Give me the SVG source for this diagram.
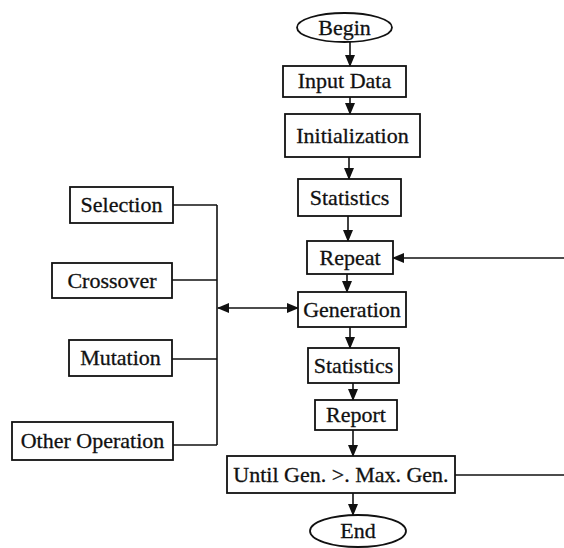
<svg xmlns="http://www.w3.org/2000/svg" width="564" height="548" viewBox="0 0 564 548">
<style>
.n{fill:#fff;stroke:#111;stroke-width:1.8}
.t{font-family:"Liberation Serif","Times New Roman",serif;font-size:22px;fill:#111;stroke:#111;stroke-width:0.3;text-anchor:middle}
.c{fill:none;stroke:#111;stroke-width:1.6}
</style>
<defs>
<marker id="ah" markerWidth="12" markerHeight="10" refX="11" refY="5" orient="auto-start-reverse" markerUnits="userSpaceOnUse">
<path d="M0,0 L12,5 L0,10 Z" fill="#111"/>
</marker>
</defs>
<rect width="564" height="548" fill="#fff"/>
<g id="connectors">
<line class="c" x1="350" y1="42" x2="350" y2="66" marker-end="url(#ah)"/>
<line class="c" x1="350" y1="97" x2="350" y2="114" marker-end="url(#ah)"/>
<line class="c" x1="349" y1="157" x2="349" y2="179" marker-end="url(#ah)"/>
<line class="c" x1="348" y1="216" x2="348" y2="241" marker-end="url(#ah)"/>
<line class="c" x1="347" y1="274" x2="347" y2="292" marker-end="url(#ah)"/>
<line class="c" x1="350" y1="327" x2="350" y2="348" marker-end="url(#ah)"/>
<line class="c" x1="353" y1="383" x2="353" y2="400" marker-end="url(#ah)"/>
<line class="c" x1="353" y1="430" x2="353" y2="456" marker-end="url(#ah)"/>
<line class="c" x1="353" y1="493" x2="353" y2="515" marker-end="url(#ah)"/>
<line class="c" x1="564" y1="258" x2="393" y2="258" marker-end="url(#ah)"/>
<line class="c" x1="455" y1="475" x2="564" y2="475"/>
<line class="c" x1="217" y1="205" x2="217" y2="445"/>
<line class="c" x1="173" y1="205" x2="217" y2="205"/>
<line class="c" x1="172" y1="280" x2="217" y2="280"/>
<line class="c" x1="172" y1="359" x2="217" y2="359"/>
<line class="c" x1="173" y1="445" x2="217" y2="445"/>
<line class="c" x1="218" y1="308" x2="298" y2="308" marker-start="url(#ah)" marker-end="url(#ah)"/>
</g>
<g id="begin"><ellipse class="n" cx="344.5" cy="27.5" rx="47.5" ry="14.5"/><text class="t" x="344.5" y="35">Begin</text></g>
<g id="input"><rect class="n" x="283" y="66" width="123" height="31"/><text class="t" x="344.5" y="88">Input Data</text></g>
<g id="init"><rect class="n" x="285" y="114" width="135" height="43"/><text class="t" x="352.5" y="143">Initialization</text></g>
<g id="stats1"><rect class="n" x="298" y="179" width="103" height="37"/><text class="t" x="349.5" y="205">Statistics</text></g>
<g id="repeat"><rect class="n" x="307" y="241" width="86" height="33"/><text class="t" x="350" y="265">Repeat</text></g>
<g id="generation"><rect class="n" x="298" y="292" width="108" height="35"/><text class="t" x="352" y="317">Generation</text></g>
<g id="stats2"><rect class="n" x="308" y="348" width="91" height="35"/><text class="t" x="353.5" y="373">Statistics</text></g>
<g id="report"><rect class="n" x="315" y="400" width="82" height="30"/><text class="t" x="356" y="422">Report</text></g>
<g id="until"><rect class="n" x="227" y="456" width="228" height="37"/><text class="t" x="341" y="482">Until Gen. &gt;. Max. Gen.</text></g>
<g id="end"><ellipse class="n" cx="358" cy="531" rx="48" ry="16"/><text class="t" x="358" y="538">End</text></g>
<g id="selection"><rect class="n" x="70" y="187" width="103" height="36"/><text class="t" x="121.5" y="212">Selection</text></g>
<g id="crossover"><rect class="n" x="52" y="263" width="120" height="35"/><text class="t" x="112" y="288">Crossover</text></g>
<g id="mutation"><rect class="n" x="69" y="340" width="103" height="36"/><text class="t" x="120.5" y="365">Mutation</text></g>
<g id="other"><rect class="n" x="12" y="422" width="161" height="38"/><text class="t" x="92.5" y="448">Other Operation</text></g>
</svg>
